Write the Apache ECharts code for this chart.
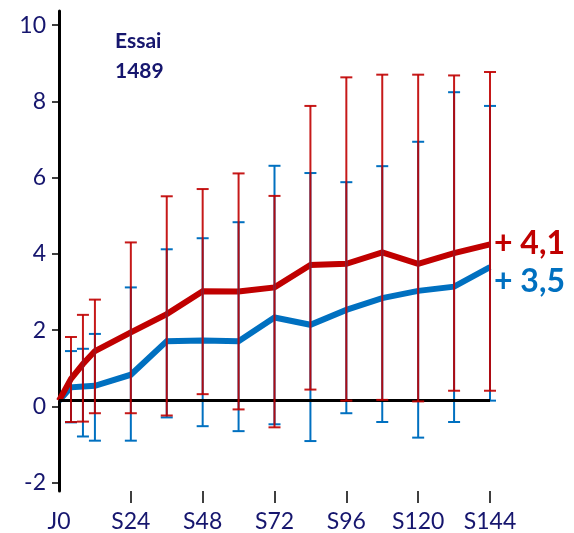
<!DOCTYPE html>
<html>
<head>
<meta charset="utf-8">
<script src="https://cdn.jsdelivr.net/npm/echarts@6/dist/echarts.min.js"></script>
<style>
  html, body { margin: 0; padding: 0; background: #fff; }
  #chart { width: 574px; height: 533px; }
</style>
</head>
<body>
<div id="chart"></div>
<script>
// Visit schedule (weeks) and mean change per arm, with error bar bounds
const weeks = [0, 4, 8, 12, 24, 36, 48, 60, 72, 84, 96, 108, 120, 132, 144];
const yTicks = [-2, 0, 2, 4, 6, 8, 10];
const xTicks = [0, 24, 48, 72, 96, 120, 144];

const redMean  = [0.15, 0.72, 1.11, 1.45, 1.94, 2.42, 3.02, 3.01, 3.12, 3.71, 3.74, 4.04, 3.74, 4.02, 4.25];
const redUpper = [null, 1.82, 2.40, 2.80, 4.30, 5.51, 5.70, 6.11, 5.52, 7.88, 8.63, 8.70, 8.70, 8.68, 8.77];
const redLower = [null, -0.41, -0.40, -0.18, -0.18, -0.24, 0.32, -0.08, -0.55, 0.44, 0.15, 0.17, 0.13, 0.41, 0.41];

const blueMean  = [0.15, 0.50, 0.52, 0.54, 0.83, 1.71, 1.73, 1.71, 2.33, 2.14, 2.53, 2.84, 3.03, 3.14, 3.65];
const blueUpper = [null, 1.45, 1.51, 1.90, 3.12, 4.12, 4.41, 4.83, 6.31, 6.12, 5.88, 6.30, 6.94, 8.24, 7.88];
const blueLower = [null, -0.42, -0.79, -0.90, -0.90, -0.29, -0.52, -0.65, -0.47, -0.91, -0.18, -0.41, -0.82, -0.41, 0.15];

const RED = '#C00000';
const BLUE = '#0070C0';
const NAVY = '#16166E';
const FONT = 'Lato, "Open Sans", sans-serif';

const pairs = (ys) => weeks.map((w, i) => [w, ys[i]]);
const gainText = (ys) => '+ ' + (ys[ys.length - 1] - ys[0]).toFixed(1).replace('.', ',');

function errorData(lower, upper) {
  const out = [];
  weeks.forEach((w, i) => {
    if (upper[i] != null) out.push([w, lower[i], upper[i]]);
  });
  return out;
}

function errorSeries(color, lower, upper, z, opacity) {
  return {
    type: 'custom',
    z: z,
    silent: true,
    encode: { x: 0, y: [1, 2] },
    data: errorData(lower, upper),
    renderItem: function (params, api) {
      const x = api.value(0);
      const lo = api.coord([x, api.value(1)]);
      const hi = api.coord([x, api.value(2)]);
      const hw = 6;
      const style = { stroke: color, lineWidth: 2, opacity: opacity };
      return {
        type: 'group',
        children: [
          { type: 'line', shape: { x1: lo[0], y1: lo[1], x2: hi[0], y2: hi[1] }, style: style },
          { type: 'line', shape: { x1: hi[0] - hw, y1: hi[1], x2: hi[0] + hw, y2: hi[1] }, style: style },
          { type: 'line', shape: { x1: lo[0] - hw, y1: lo[1], x2: lo[0] + hw, y2: lo[1] }, style: style }
        ]
      };
    }
  };
}

const chart = echarts.init(document.getElementById('chart'), null, { renderer: 'canvas' });

chart.setOption({
  animation: false,
  backgroundColor: '#ffffff',
  title: {
    text: 'Essai\n1489',
    left: 110,
    top: 21,
    textStyle: { color: NAVY, fontFamily: FONT, fontWeight: 'bold', fontSize: 21, lineHeight: 30 }
  },
  grid: { left: 59, right: 84, top: 11, bottom: 41 },
  xAxis: {
    type: 'value',
    min: 0,
    max: 144,
    axisLine: { show: false, onZero: false },
    splitLine: { show: false },
    axisTick: {
      show: true,
      length: 12,
      customValues: xTicks.slice(1),
      lineStyle: { color: '#000', width: 1.5 }
    },
    axisLabel: {
      customValues: xTicks,
      margin: 19,
      color: NAVY,
      fontFamily: FONT,
      fontSize: 23,
      formatter: (v) => (v === 0 ? '{j|J0}' : 'S' + v),
      rich: {
        j: { color: NAVY, fontFamily: FONT, fontSize: 23, padding: [0, 0, 10, 0] }
      }
    }
  },
  yAxis: {
    type: 'value',
    min: -2.22,
    max: 10.37,
    axisLine: { show: true, onZero: false, lineStyle: { color: '#000', width: 3 } },
    splitLine: { show: false },
    axisTick: {
      show: true,
      length: 7,
      customValues: yTicks,
      lineStyle: { color: '#000', width: 1.5 }
    },
    axisLabel: {
      customValues: yTicks,
      margin: 13,
      color: NAVY,
      fontFamily: FONT,
      fontSize: 23
    }
  },
  series: [
    {
      name: 'blue',
      type: 'line',
      z: 2,
      data: pairs(blueMean),
      showSymbol: false,
      symbol: 'none',
      lineStyle: { color: BLUE, width: 6, join: 'miter' },
      endLabel: {
        show: true,
        formatter: () => gainText(blueMean),
        color: BLUE,
        fontFamily: FONT,
        fontWeight: 'bold',
        fontSize: 32,
        distance: 4,
        offset: [0, 14]
      }
    },
    {
      name: 'red',
      type: 'line',
      z: 3,
      data: pairs(redMean),
      showSymbol: false,
      symbol: 'none',
      lineStyle: { color: RED, width: 6, join: 'miter' },
      endLabel: {
        show: true,
        formatter: () => gainText(redMean),
        color: RED,
        fontFamily: FONT,
        fontWeight: 'bold',
        fontSize: 32,
        distance: 4,
        offset: [0, -1]
      }
    },
    errorSeries(BLUE, blueLower, blueUpper, 4, 1),
    errorSeries(RED, redLower, redUpper, 5, 0.9),
    {
      // baseline at the J0 level
      type: 'line',
      z: 6,
      data: [],
      markLine: {
        silent: true,
        symbol: 'none',
        label: { show: false },
        lineStyle: { color: '#000', width: 3, type: 'solid' },
        data: [[{ coord: [0, redMean[0]] }, { coord: [144, redMean[0]] }]]
      }
    }
  ]
});
</script>
</body>
</html>
